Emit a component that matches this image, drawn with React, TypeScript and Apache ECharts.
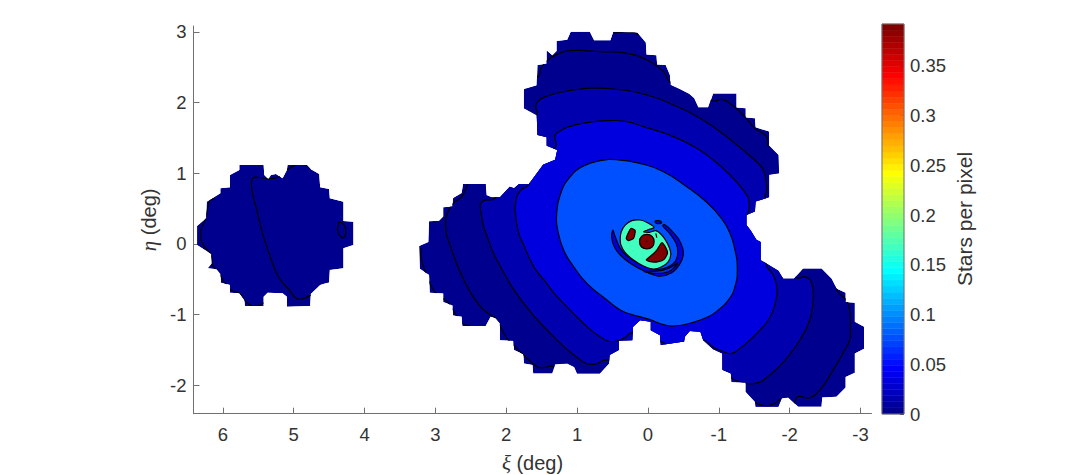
import React, { useEffect, useRef } from "react";
import * as echarts from "echarts";

type P = [number, number];

// axis ticks
const xTicks = [6, 5, 4, 3, 2, 1, 0, -1, -2, -3];
const yTicks = [3, 2, 1, 0, -1, -2];
const cbTicks = [0, 0.05, 0.1, 0.15, 0.2, 0.25, 0.3, 0.35];
const cbMax = 0.392;

// jet colormap, 64 steps
const jet = [
  "#00008F","#00009F","#0000AF","#0000BF","#0000CF","#0000DF","#0000EF","#0000FF",
  "#0010FF","#0020FF","#0030FF","#0040FF","#0050FF","#0060FF","#0070FF","#0080FF",
  "#008FFF","#009FFF","#00AFFF","#00BFFF","#00CFFF","#00DFFF","#00EFFF","#00FFFF",
  "#10FFEF","#20FFDF","#30FFCF","#40FFBF","#50FFAF","#60FF9F","#70FF8F","#80FF80",
  "#8FFF70","#9FFF60","#AFFF50","#BFFF40","#CFFF30","#DFFF20","#EFFF10","#FFFF00",
  "#FFEF00","#FFDF00","#FFCF00","#FFBF00","#FFAF00","#FF9F00","#FF8F00","#FF8000",
  "#FF7000","#FF6000","#FF5000","#FF4000","#FF3000","#FF2000","#FF1000","#FF0000",
  "#EF0000","#DF0000","#CF0000","#BF0000","#AF0000","#9F0000","#8F0000","#800000",
];

// field footprint, main body (xi, eta in deg)
const maskMain: P[] = [
  [1.09,3.00],[.82,3.00],[.76,2.88],[.53,2.88],[.49,3.00],[.15,2.99],[.03,2.85],[.02,2.68],[-.12,2.67],[-.13,2.54],
  [-.25,2.53],[-.31,2.39],[-.32,2.25],[-.45,2.19],[-.58,2.12],[-.65,2.06],[-.71,1.93],[-.85,1.93],[-.92,2.13],[-1.25,2.13],
  [-1.25,1.93],[-1.38,1.92],[-1.38,1.79],[-1.51,1.78],[-1.52,1.65],[-1.71,1.59],[-1.71,1.39],[-1.84,1.26],[-1.85,1.00],[-1.71,.98],
  [-1.71,.66],[-1.52,.60],[-1.51,.46],[-1.39,.41],[-1.39,.27],[-1.45,.19],[-1.53,.06],[-1.59,.03],[-1.59,-.23],[-1.66,-.27],
  [-1.84,-.38],[-1.91,-.49],[-2.06,-.49],[-2.19,-.35],[-2.45,-.35],[-2.59,-.49],[-2.66,-.63],[-2.79,-.69],[-2.79,-.82],[-2.92,-.83],
  [-2.92,-1.10],[-3.05,-1.17],[-3.05,-1.48],[-2.92,-1.55],[-2.92,-1.82],[-2.79,-1.88],[-2.79,-2.03],[-2.66,-2.16],[-2.46,-2.17],[-2.45,-2.30],
  [-2.12,-2.30],[-1.98,-2.17],[-1.89,-2.18],[-1.84,-2.30],[-1.52,-2.30],[-1.51,-2.23],[-1.38,-2.09],[-1.38,-1.96],[-1.18,-1.95],[-1.17,-1.83],
  [-1.05,-1.78],[-1.05,-1.55],[-.92,-1.49],[-.78,-1.36],[-.74,-1.24],[-.59,-1.23],[-.52,-1.31],[-.51,-1.38],[-.18,-1.43],[-.17,-1.29],
  [-.04,-1.22],[-.04,-1.10],[.11,-1.08],[.21,-1.17],[.22,-1.36],[.41,-1.37],[.41,-1.50],[.54,-1.57],[.55,-1.69],[.68,-1.83],
  [1.00,-1.83],[1.04,-1.74],[1.14,-1.69],[1.31,-1.70],[1.35,-1.83],[1.62,-1.83],[1.63,-1.71],[1.75,-1.69],[1.76,-1.56],[1.89,-1.50],
  [1.90,-1.37],[2.09,-1.36],[2.09,-1.12],[2.15,-1.05],[2.22,-1.03],[2.29,-1.16],[2.62,-1.16],[2.63,-1.03],[2.75,-1.01],[2.76,-.87],
  [2.89,-.82],[2.89,-.70],[3.08,-.69],[3.09,-.44],[3.22,-.35],[3.23,-.03],[3.10,.03],[3.09,.32],[2.95,.33],[2.89,.39],
  [2.89,.52],[2.76,.53],[2.75,.65],[2.63,.72],[2.61,.85],[2.29,.85],[2.28,.69],[2.21,.66],[2.09,.66],[1.95,.81],
  [1.89,.79],[1.82,.85],[1.68,.85],[1.48,1.12],[1.31,1.19],[1.28,1.33],[1.43,1.39],[1.43,1.51],[1.56,1.54],[1.57,1.82],
  [1.75,1.92],[1.75,2.19],[1.57,2.24],[1.56,2.53],[1.43,2.55],[1.43,2.74],[1.35,2.67],[1.29,2.73],[1.29,2.87],[1.14,2.89],
];

// field footprint, left field
const maskLeft: P[] = [
  [5.767,1.118],[5.424,1.118],[5.415,.976],[5.359,.92],[5.321,.976],[5.251,.99],[5.157,.929],[5.096,1.047],[5.087,1.118],[4.814,1.118],
  [4.758,1.057],[4.64,.99],[4.626,.802],[4.5,.778],[4.49,.646],[4.298,.599],[4.298,.326],[4.157,.316],[4.157,-.014],[4.298,-.061],
  [4.298,-.344],[4.49,-.367],[4.5,-.542],[4.626,-.58],[4.758,-.707],[4.767,-.877],[5.096,-.886],[5.096,-.745],[5.157,-.697],[5.368,-.688],
  [5.424,-.745],[5.424,-.877],[5.688,-.877],[5.697,-.792],[5.767,-.697],[5.899,-.688],[5.899,-.58],[6.026,-.547],[6.035,-.424],[6.087,-.358],
  [6.213,-.344],[6.157,-.273],[6.166,-.141],[6.364,-.014],[6.364,.255],[6.237,.363],[6.227,.599],[6.035,.717],[6.035,.788],[5.899,.802],
  [5.899,.976],[5.767,1.047],
];

// contour regions of the main body; stretches between arcs run outside the footprint
const level1: P[] = [
  [1.556,2.366],[1.509,2.484],[1.425,2.593],[1.284,2.682],[1.096,2.734],[.673,2.72],[.298,2.697],[.016,2.602],[-.219,2.437],[-.312,2.296],
  [-.913,2.022],[-1.04,2.046],[-1.157,1.989],[-1.345,1.824],[-1.51,1.636],[-1.674,1.518],[-1.712,1.386],[-2.0,1.5],[-2.7,-.3],
  [-2.66,-.627],[-2.824,-.84],[-2.857,-1.217],[-2.848,-1.358],[-2.777,-1.5],[-2.613,-1.783],[-2.425,-2.066],[-2.284,-2.174],[-2.097,-2.174],
  [-2.0,-2.6],[1.33,-2.0],[1.33,-1.74],[1.471,-1.749],[1.565,-1.735],[1.753,-1.57],[1.988,-1.334],[2.081,-1.169],[2.152,-1.051],[2.222,-1.004],
  [2.363,-.886],[2.598,-.509],[2.786,-.037],[2.856,.245],[2.786,.528],[2.598,.717],[2.0,2.3],
];
const level2: P[] = [
  [1.566,1.824],[1.584,1.942],[1.556,2.013],[1.472,2.074],[1.19,2.154],[.861,2.201],[.486,2.192],[.016,2.107],[-.359,1.966],[-.735,1.777],
  [-1.111,1.518],[-1.533,1.164],[-1.627,1.046],[-1.665,.905],[-1.674,.763],[-1.66,.645],[-2.0,.06],
  [-2.083,-.462],[-2.238,-.472],[-2.317,-.58],[-2.331,-.793],[-2.284,-1.075],[-2.144,-1.358],[-1.956,-1.618],[-1.721,-1.853],[-1.51,-1.971],
  [-1.299,-1.948],[-1.181,-1.9],[-1.054,-1.792],[-.24,-1.92],
  [.556,-1.641],[.767,-1.702],[.955,-1.641],[1.377,-1.263],[1.753,-.839],[2.081,-.32],[2.269,.104],[2.354,.434],[2.34,.599],[2.15,.66],
];
const level3: P[] = [
  [1.31,1.36],[1.307,1.541],[1.237,1.598],[1.143,1.65],[.861,1.716],[.58,1.744],[.298,1.73],[.063,1.659],[-.359,1.518],[-.688,1.353],
  [-.923,1.188],[-1.158,.976],[-1.345,.763],[-1.416,.645],[-1.43,.528],[-1.416,.363],[-1.674,.339],
  [-1.665,-.274],[-1.768,-.439],[-1.815,-.58],[-1.815,-.745],[-1.768,-.934],[-1.698,-1.075],[-1.58,-1.217],[-1.439,-1.358],[-1.299,-1.476],
  [-1.181,-1.547],[-1.064,-1.523],[-.923,-1.462],[-.782,-1.358],[-.641,-1.405],
  [-.51,-1.382],[-.406,-1.42],[-.336,-1.429],[-.266,-1.424],[-.181,-1.382],[-.101,-1.453],
  [.22,-1.26],[.344,-1.334],[.532,-1.381],[.696,-1.296],[.861,-1.169],[1.283,-.745],[1.448,-.533],[1.612,-.32],[1.753,-.014],[1.823,.151],
  [1.87,.434],[1.861,.623],[1.8,.755],[1.682,.849],[1.6,1.25],
];
const level4: P[] = [
  [1.274,.198],[1.29,.40],[1.237,.7],[1.096,.952],[.908,1.103],[.673,1.178],[.439,1.192],[.11,1.141],[-.219,1.023],[-.547,.81],
  [-.829,.59],[-1.04,.36],[-1.158,.151],[-1.228,-.085],[-1.261,-.321],[-1.228,-.604],[-1.134,-.793],[-.993,-.934],[-.852,-1.028],[-.641,-1.108],
  [-.36,-1.16],[-.195,-1.132],[-.03,-1.07],[.11,-1.03],[.206,-1.004],[.39,-.933],[.579,-.792],[.861,-.556],[1.049,-.32],[1.19,-.085],
];

// central structure
const ringOuter: P[] = [
  [.495,.198],[.513,.103],[.476,-.038],[.391,-.156],[.25,-.274],[.063,-.378],[-.148,-.453],[-.336,-.406],[-.454,-.274],[-.501,-.132],
  [-.454,.033],[-.36,.16],[-.228,.278],[-.21,.254],[-.313,.141],[-.397,.009],[-.421,-.132],[-.383,-.25],[-.29,-.321],[-.148,-.359],
  [.016,-.321],[.25,-.203],[.391,-.062],[.462,.103],
];
const ringStrip: P[] = [[.055,-.39],[-.1,-.415],[-.22,-.41],[-.33,-.37],[-.42,-.27],[-.35,-.315],[-.22,-.37],[-.1,-.385]];
const island: P[] = [[-.102,.325],[-.149,.33],[-.195,.306],[-.163,.287],[-.111,.297]];
const core: P[] = [
  [.391,.08],[.377,.174],[.321,.268],[.227,.33],[.11,.339],[.006,.301],[-.087,.235],[-.022,.207],[.063,.174],[-.022,.165],
  [-.111,.188],[-.195,.127],[-.275,.009],[-.322,-.132],[-.289,-.25],[-.195,-.321],[-.078,-.354],[.063,-.312],[.204,-.227],[.321,-.123],[.382,-.015],
];
const peakLeft: P[] = [[.307,.08],[.241,.221],[.18,.188],[.204,.08],[.274,.047]];
const peakMid: P[] = [[.016,.136],[-.059,.108],[-.087,.033],[-.059,-.043],[.016,-.071],[.091,-.043],[.119,.033],[.091,.108]];
const peakLow: P[] = [[.025,-.227],[-.055,-.156],[-.125,-.085],[-.195,.018],[-.256,-.062],[-.275,-.132],[-.228,-.217],[-.148,-.25],[-.055,-.255]];

// open contour arcs
const arcsMain: P[][] = [
  [[3.199,-.061],[3.199,-.2],[3.152,-.368],[3.067,-.58],[2.974,-.721],[2.833,-.815],[2.739,-.957],[2.621,-1.122],[2.528,-1.155]],
  [[-1.519,-2.245],[-1.604,-2.278],[-1.698,-2.287],[-1.792,-2.254],[-1.862,-2.193]],
  [[.486,2.979],[.392,2.998],[.204,2.994],[.134,2.956]],
  [[-.111,.15],[-.125,.09]],
  [[.02,.04],[.012,.03]],
];
const arcsLeft: P[][] = [
  [[5.19,.953],[5.359,.92],[5.462,.939],[5.58,.929],[5.589,.764],[5.533,.528],[5.439,.151],[5.298,-.273],[5.204,-.485],[5.063,-.65],[4.969,-.768],[4.899,-.782],[4.781,-.735],[4.64,-.65],[4.5,-.532]],
  [[6.12,.646],[6.19,.6],[6.227,.434],[6.26,.316],[6.307,.198],[6.307,.057],[6.26,-.037],[6.166,-.155],[6.143,-.297],[6.049,-.414],[6.0,-.509],[5.885,-.65],[5.767,-.697],[5.697,-.792],[5.603,-.872],[5.509,-.877],[5.424,-.83]],
  [[4.359,.316],[4.288,.269],[4.265,.175],[4.288,.095],[4.345,.114],[4.382,.198],[4.359,.316]],
  [[5.096,1.047],[4.969,1.118],[4.828,1.118],[4.758,1.057]],
];

const textColor = "#333333";
const axisColor = "#707070";
const font = "'Liberation Sans', Arial, sans-serif";
const lw = 1.2;

export default function App() {
  const ref = useRef<HTMLDivElement>(null);
  useEffect(() => {
    const chart = echarts.init(ref.current!, undefined, { renderer: "svg" });

    const fieldItem = (api: any, mask: P[], bands: { pts: P[]; fill: string; smooth?: number }[], arcs: P[][]) => {
      const c = (pts: P[]) => pts.map((p) => api.coord(p));
      const children: any[] = [
        { type: "polygon", shape: { points: c(mask) }, style: { fill: jet[0], stroke: "none" } },
      ];
      bands.forEach((b) => {
        children.push({
          type: "polygon",
          shape: { points: c(b.pts), smooth: b.smooth ?? 0.5 },
          style: { fill: b.fill, stroke: "#000000", lineWidth: lw },
        });
      });
      arcs.forEach((a) => {
        children.push({
          type: "polyline",
          shape: { points: c(a), smooth: 0.4 },
          style: { fill: "none", stroke: "#000000", lineWidth: lw },
        });
      });
      return { type: "group", clipPath: { type: "polygon", shape: { points: c(mask) } }, children };
    };

    const nameStyle = {
      color: textColor, fontFamily: font, fontSize: 20,
      rich: { g: { fontFamily: "'Liberation Serif', serif", fontStyle: "italic", fontSize: 21, color: textColor }, t: { fontFamily: font, fontSize: 20, color: textColor } },
    };

    const option: any = {
      animation: false,
      backgroundColor: "#ffffff",
      grid: [
        { left: 193.5, top: 26, width: 678, height: 387.7, containLabel: false, outerBoundsMode: "none" },
        { left: 882, top: 24, width: 22, height: 390, containLabel: false, outerBoundsMode: "none" },
      ],
      xAxis: [
        {
          type: "value", gridIndex: 0, inverse: true, min: -3.155, max: 6.414, position: "bottom",
          name: "{g|ξ}{t| (deg)}", nameLocation: "middle", nameGap: 39,
          nameTextStyle: nameStyle,
          splitLine: { show: false },
          axisLine: { show: true, onZero: false, lineStyle: { color: axisColor, width: 1 } },
          axisTick: { show: true, inside: true, length: 6, customValues: xTicks, lineStyle: { color: axisColor, width: 1 } },
          axisLabel: { show: true, customValues: xTicks, margin: 11, color: textColor, fontFamily: font, fontSize: 18.5 },
        },
        { type: "value", gridIndex: 1, min: 0, max: 1, show: false },
      ],
      yAxis: [
        {
          type: "value", gridIndex: 0, min: -2.4, max: 3.083,
          name: "{g|η}{t| (deg)}", nameLocation: "middle", nameGap: 26, nameRotate: 90,
          nameTextStyle: nameStyle,
          splitLine: { show: false },
          axisLine: { show: true, onZero: false, lineStyle: { color: axisColor, width: 1 } },
          axisTick: { show: true, inside: true, length: 6, customValues: yTicks, lineStyle: { color: axisColor, width: 1 } },
          axisLabel: { show: true, customValues: yTicks, margin: 7, color: textColor, fontFamily: font, fontSize: 18.5 },
        },
        {
          type: "value", gridIndex: 1, min: 0, max: cbMax, position: "right",
          name: "Stars per pixel", nameLocation: "middle", nameGap: 50, nameRotate: 90,
          nameTextStyle: { color: textColor, fontFamily: font, fontSize: 21 },
          splitLine: { show: false },
          axisLine: { show: false, onZero: false },
          axisTick: { show: true, inside: true, length: 4, customValues: cbTicks, lineStyle: { color: "#444444", width: 1 } },
          axisLabel: { show: true, customValues: cbTicks, margin: 6, color: textColor, fontFamily: font, fontSize: 18.5 },
        },
      ],
      series: [
        {
          type: "custom", xAxisIndex: 0, yAxisIndex: 0, clip: false, silent: true, coordinateSystem: "cartesian2d",
          data: [[0, 0], [1, 0]],
          renderItem: (params: any, api: any) => {
            if (params.dataIndex === 1) return fieldItem(api, maskLeft, [], arcsLeft);
            return fieldItem(api, maskMain, [
              { pts: level1, fill: jet[0] },
              { pts: level2, fill: jet[2] },
              { pts: level3, fill: jet[5] },
              { pts: level4, fill: jet[12] },
              { pts: ringOuter, fill: jet[5], smooth: 0.3 },
              { pts: ringStrip, fill: jet[10], smooth: 0.3 },
              { pts: island, fill: jet[5], smooth: 0.3 },
              { pts: core, fill: jet[27], smooth: 0.3 },
              { pts: peakLeft, fill: jet[63], smooth: 0.2 },
              { pts: peakMid, fill: jet[63], smooth: 0.5 },
              { pts: peakLow, fill: jet[63], smooth: 0.2 },
            ], arcsMain);
          },
        },
        {
          type: "custom", xAxisIndex: 1, yAxisIndex: 1, silent: true, coordinateSystem: "cartesian2d",
          data: jet.map((_, i) => [0, i]),
          renderItem: (params: any, api: any) => {
            const i = params.dataIndex;
            const a = api.coord([0, (i / 64) * cbMax]);
            const b = api.coord([1, ((i + 1) / 64) * cbMax]);
            return {
              type: "rect",
              shape: { x: a[0], y: b[1], width: b[0] - a[0], height: a[1] - b[1] },
              style: { fill: jet[i], stroke: jet[i], lineWidth: 0.5 },
            };
          },
        },
        {
          type: "custom", xAxisIndex: 1, yAxisIndex: 1, silent: true, coordinateSystem: "cartesian2d", z: 5,
          data: [[0, 0]],
          renderItem: (_: any, api: any) => {
            const a = api.coord([0, 0]);
            const b = api.coord([1, cbMax]);
            return {
              type: "rect",
              shape: { x: a[0], y: b[1], width: b[0] - a[0], height: a[1] - b[1] },
              style: { fill: "none", stroke: axisColor, lineWidth: 1 },
            };
          },
        },
      ],
    };
    chart.setOption(option);
    return () => chart.dispose();
  }, []);
  return <div ref={ref} style={{ position: "absolute", left: 0, top: 0, width: 1082, height: 475 }} />;
}
